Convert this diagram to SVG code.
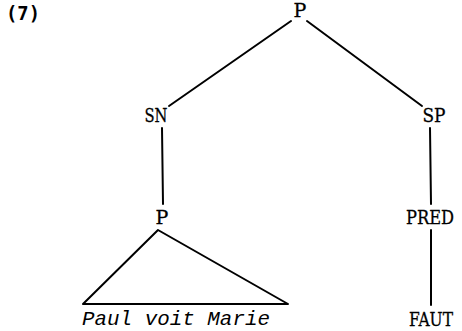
<svg xmlns="http://www.w3.org/2000/svg" width="462" height="331" viewBox="0 0 462 331">
<style>
.lbl{font-family:"DejaVu Serif","Liberation Serif",serif;font-size:19px;fill:#000;text-anchor:middle;stroke:#000;stroke-width:0.3}
.it{font-family:"Liberation Mono","Courier New",monospace;font-size:21px;font-style:italic;fill:#000}
.num{font-family:"DejaVu Sans Mono","Liberation Mono",monospace;font-size:20px;font-weight:bold;fill:#000}
.edge{stroke:#000;stroke-width:2;fill:none;stroke-linecap:round;stroke-linejoin:round}
</style>
<rect width="462" height="331" fill="#fff"/>
<text class="num" x="6" y="20" textLength="34" lengthAdjust="spacingAndGlyphs">(7)</text>
<g id="connectors">
<line class="edge" x1="291" y1="21" x2="169" y2="106"/>
<line class="edge" x1="307" y1="21" x2="422" y2="106"/>
<line class="edge" x1="162" y1="128" x2="163" y2="204"/>
<line class="edge" x1="430" y1="128" x2="431" y2="204"/>
<line class="edge" x1="431" y1="230" x2="431" y2="305"/>
</g>
<g id="node-P-top"><text class="lbl" x="300" y="17">P</text></g>
<g id="node-SN"><text class="lbl" x="156" y="122" textLength="23" lengthAdjust="spacingAndGlyphs">SN</text></g>
<g id="node-SP"><text class="lbl" x="434" y="122" textLength="23" lengthAdjust="spacingAndGlyphs">SP</text></g>
<g id="node-P-mid"><text class="lbl" x="162" y="224">P</text></g>
<g id="node-PRED"><text class="lbl" x="430" y="224" textLength="48" lengthAdjust="spacingAndGlyphs">PRED</text></g>
<g id="node-triangle">
<polygon class="edge" points="158,230 83,304 288,304"/>
<text class="it" x="82" y="325" textLength="188" lengthAdjust="spacingAndGlyphs">Paul voit Marie</text>
</g>
<g id="node-FAUT"><text class="lbl" x="431" y="326" textLength="44" lengthAdjust="spacingAndGlyphs">FAUT</text></g>
</svg>
